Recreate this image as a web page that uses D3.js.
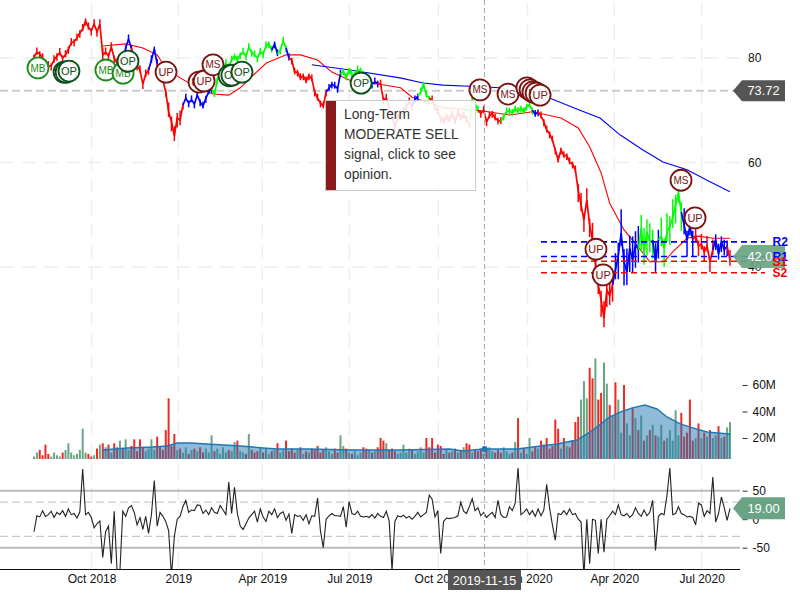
<!DOCTYPE html>
<html><head><meta charset="utf-8">
<script src="https://cdn.jsdelivr.net/npm/d3@7"></script>
<style>
html,body{margin:0;padding:0;background:#fff;}
svg{display:block;font-family:"Liberation Sans",Arial,sans-serif;}
</style></head><body><div id="chart"></div>
<script>
// ---- data (one sample = about two sessions) ----
const closes = [
80.2,81.1,80.8,80,79.2,78.5,78.5,79.6,80.4,81,
80,80.6,81.7,82.9,83.1,83.8,84.8,85.6,87.1,85.9,
85.2,86.5,85,86.5,80.6,81.1,80.4,82.1,80,79,
79.6,78.5,81.9,83.6,81.9,80,78.5,77.7,75,76.9,
77.7,79.6,81.7,78.9,77.3,75.8,73.5,69.7,67.8,65.1,
68.5,68.1,71,72.3,71.4,72,71.2,72.9,71.6,70.8,
72.3,73.5,74.2,73,75.8,77.3,78.1,78.9,78.5,79.6,
80.4,79.6,80.6,81.1,80.4,82,81.1,80.6,80,81.1,
80.8,82.3,82.7,81.5,82.7,80.8,81.5,83.2,81.9,80,
79.6,77.3,77.3,76.2,76.6,75.6,76.6,76,73.5,72.3,
71.4,70.8,73.5,74.2,75,74.6,74.2,76.9,77.5,76.2,
77.7,76.8,76.9,77.7,77.7,76.6,75.8,75.8,75,75.4,
75.2,75,72,72.3,70.4,69.1,66.8,68.5,68.9,69.7,
70.8,71.6,70.8,72,72.7,73.5,75,72.9,72.3,72,
70.8,69.7,68.5,67.8,68.9,68.1,69.4,67.8,69.7,68.5,
69.2,68.1,67.3,72,71.2,70,69.4,70,67.8,68.9,
69.4,68.5,68.1,67.8,68.9,69.7,70,69.4,70.4,69.8,
70.4,69.7,70.8,71,70,69.2,69.7,68.9,67.8,66.2,
65.5,64.3,62.4,60.5,62.4,61.3,61.3,60.1,59.7,58.6,
54.7,51.9,49,52.8,48,45.2,41,36.6,33.7,30.2,
35.6,34.5,36.6,39.4,42.2,46.5,41,39,43.6,41.3,
44.4,43.3,47.5,42.9,46.7,44.8,45.2,41,45.2,45.9,
43.6,46.7,47.8,49.4,51.9,54.2,50.5,48,45.2,47.8,
45.2,46,44,44.4,42.9,44,41,43.3,45.2,42.5,
44.8,43.3,44,41.3];
const signalRuns = [["down",32],["flat",3],["down",6],["flat",3],["down",9],["flat",10],["up",21],["flat",2],["up",3],["flat",1],
["down",13],["flat",5],["up",9],["flat",4],["down",12],["flat",2],["up",4],["down",14],["up",3],["down",8],["up",11],["flat",2],
["down",26],["flat",9],["up",5],["flat",2],["up",8],["flat",4],["down",7],["flat",5],["down",1]];
// typical high-low spread of the bars, as [samples, price range]
const barSpreadRuns = [[24,1.4],[1,4],[22,1.4],[5,2.8],[138,1.3],[5,3.5],[9,5],[11,7],[12,5.5],[4,5],[13,3]];
const fastMaSamples = [24,32,38,43,46,51,57,62.5,68,72,76.5,81,88,93,99,104,110,118,128,132,143.5,155,166,174,184,190,194,198,201,206,211,215,220,223,228,232,237,243];
const fastMaValues  = [82.3,82.7,81.9,80.6,78.1,76.2,74.3,73.1,72.9,74.3,76.7,79,80.6,80.6,79.6,77.3,75.8,75.2,74.3,72.5,70.4,70,69.1,69.7,68.5,66.6,63,58,52.2,47.1,43.8,41,41,42.9,45.5,45.9,45.5,45.5];
const slowMaSamples = [97,110.3,127.8,135.8,142.8,152.2,162.7,180.2,190.6,197.6,204.6,212.6,219.6,228,236,243];
const slowMaValues  = [78.7,77.7,76.2,75.2,74.8,74.6,74.3,72.3,70,68.5,65.3,62.4,60.1,58.6,56.3,54.4];
const volumes = [
6,9,11,7,15,8,6,9,7,6,
9,11,16,9,7,8,11,27,9,8,
6,7,12,15,16,13,15,9,16,13,
18,12,19,11,14,19,10,19,13,10,
12,19,11,21,13,11,26,50,14,23,
11,12,9,13,8,11,12,10,13,9,
12,9,22,10,12,8,13,9,11,10,
17,18,10,9,8,23,11,9,10,13,
9,12,8,10,11,16,9,11,18,10,
12,9,11,13,8,10,9,12,11,14,
9,11,13,10,8,12,9,22,14,12,
9,8,10,7,9,13,12,11,9,10,
13,20,18,16,11,12,10,8,9,15,
9,12,11,8,10,13,9,20,13,20,
9,15,14,8,11,9,10,12,9,11,
13,16,15,9,11,10,12,8,11,13,
10,9,11,9,13,10,8,9,17,35,
9,12,8,20,10,13,12,18,15,20,
12,14,34,27,12,20,14,13,18,32,
36,49,63,50,73,65,80,49,54,77,
61,45,37,62,49,24,60,31,22,43,
35,26,37,18,22,26,30,22,21,30,
18,20,26,18,41,22,39,21,24,49,
18,20,31,20,24,21,26,20,22,29,
20,21,28,32];
const volumeForcedUp = [17,191,192,196,199,205,207,212,224,238,243];
const volumeForcedDown = [47,194,195,203,206,226,229];
const volMaSamples = [24,32.5,41.5,46.4,50,54.5,60.4,72,80,84.8,95.3,111.4,127.8,145,149.8,156.8,168.6,174.2,182.6,189.6,195.2,201,205.7,209,213.3,217.5,221,225.6,230,235,238.5,243];
const volMaValues  = [10.9,12.5,13.2,14,16.2,16.2,15.5,14,12.5,11.7,11.7,10.9,10.9,11.7,10.2,11.7,11.7,13.2,15.5,18.5,26,35.9,40.4,42.7,44.9,41.9,35.9,30.6,27.6,24.5,23.8,23];
const oscillator = [
-22,6,4,15,5,8,14,3,12,8,
15,5,18,8,10,2,13,88,8,12,
3,-15,-8,-3,-67,-22,-12,-78,14,-90,
-90,14,5,20,24,12,-10,3,-18,5,
-25,8,68,-12,12,5,-4,-20,-100,-30,
0,5,22,33,12,16,15,25,24,10,
16,8,20,12,10,24,16,8,65,10,
56,10,-12,-18,-8,2,8,14,-5,18,
4,-4,14,8,18,3,10,13,-2,9,
-25,8,5,6,-2,8,-8,6,5,37,
-20,-50,0,6,10,6,6,5,22,-14,
31,10,8,14,5,4,5,3,8,2,
10,5,3,14,-3,-90,-4,6,4,7,
2,5,0,5,12,4,8,12,42,35,
4,15,-60,-4,2,1,2,3,6,30,
14,10,22,36,15,20,6,12,3,8,
12,3,33,8,3,4,22,15,28,90,
8,12,18,8,15,5,18,6,16,61,
20,-10,-37,10,8,15,8,18,8,10,
0,-5,-100,0,-78,0,-2,-60,0,-58,
0,6,14,8,25,8,6,10,3,8,
20,10,5,16,6,12,33,-55,5,10,
8,42,90,8,10,22,10,8,4,5,
3,-10,28,25,5,15,10,74,-5,10,
39,20,-2,19];
const tickSamples = [20.1,50.4,79.7,110.1,141.2,172.3,202.6,233.1];
const tickLabels = ["Oct 2018","2019","Apr 2019","Jul 2019","Oct 2019","Jan 2020","Apr 2020","Jul 2020"];
const priceTicks = [80,60,40];
const volumeTicks = [20,40,60];
const oscTicks = [50,0,-50];
const levelNames = ["R2","R1","S1","S2"];
const levelValues = [44.8,42,41.1,38.9];
const markerTypes  = ["MB","OP","OP","OP","MB","MB","OP","UP","UP","UP","MS","OP","OP","OP","OP","MS","MS","UP","UP","UP","UP","UP","UP","UP","MS","UP"];
const markerSamples= [1.4,10.5,11.2,12.2,25.1,31.1,32.8,46.1,57.6,59.4,62.5,68.1,69.1,72.6,114.2,155.7,165.5,172.1,173.2,174.2,175.3,176.7,196.2,198.7,225.9,230.8];
const markerValues = [78.1,77.3,77.3,77.5,77.7,77.1,79.4,77.3,75.4,75.6,78.7,76.6,76.7,77.3,75.2,73.9,73.1,74.3,73.9,73.5,73.3,72.9,43.4,38.5,56.6,49.4];
const tooltipLines = ["Long-Term","MODERATE SELL","signal, click to see","opinion."];
const cursorSample = 157.3, cursorLabel = "2019-11-15";
const lastPriceRef = 73.72, lastClose = 42.0, lastCloseLabel = "42.08", lastOsc = 19.00;

// ---- scales ----
const W = 800, H = 600;
const svg = d3.select("#chart").append("svg").attr("width",W).attr("height",H);
const x = d3.scaleLinear().domain([0,closes.length-1]).range([34,730]);
const yP = d3.scaleLinear().domain([80,40]).range([58,267]);
const yV = d3.scaleLinear().domain([4.15,80]).range([459,358.5]);
const yO = d3.scaleLinear().domain([-50,50]).range([547.7,490.7]);
const plotRight = 740, paneBottom = 569.5;

// grid
const g = svg.append("g").attr("fill","none");
g.selectAll("line.v").data(tickSamples).join("line")
 .attr("x1",d=>x(d)).attr("x2",d=>x(d)).attr("y1",3).attr("y2",paneBottom)
 .attr("stroke","#eeeeee").attr("stroke-width",1.5).attr("stroke-dasharray","14,8");
g.selectAll("line.h").data(priceTicks).join("line")
 .attr("x1",0).attr("x2",plotRight).attr("y1",d=>yP(d)).attr("y2",d=>yP(d))
 .attr("stroke","#eeeeee").attr("stroke-width",1.5).attr("stroke-dasharray","14,8");

// price reference
svg.append("line").attr("x1",0).attr("x2",735).attr("y1",yP(lastPriceRef)).attr("y2",yP(lastPriceRef))
 .attr("stroke","#cccccc").attr("stroke-width",2).attr("stroke-dasharray","8,4");

// moving averages
const maLine = d3.line().x(d=>x(d[0])).y(d=>yP(d[1]));
svg.append("path").attr("d",maLine(d3.zip(fastMaSamples,fastMaValues))).attr("fill","none").attr("stroke","#ff0000").attr("stroke-width",1.1);
svg.append("path").attr("d",maLine(d3.zip(slowMaSamples,slowMaValues))).attr("fill","none").attr("stroke","#0000ff").attr("stroke-width",1.1);

// price, coloured by signal, drawn as a close line with high-low bars
const signalColor = {down:"#ff0000",flat:"#0000ff",up:"#00ff00"};
const closeLine = d3.line().x(d=>x(d)).y(d=>yP(closes[d]));
const spreads = barSpreadRuns.flatMap(([n,s])=>d3.range(n).map(()=>s));
let at = 0;
signalRuns.forEach(([name,n])=>{
  const idx = d3.range(Math.max(at-1,0), Math.min(at+n,closes.length));
  const col = signalColor[name];
  svg.append("path").attr("d",closeLine(idx)).attr("fill","none").attr("stroke",col).attr("stroke-width",1.7);
  svg.append("g").selectAll("line").data(d3.range(at,Math.min(at+n,closes.length))).join("line")
    .attr("x1",d=>x(d)).attr("x2",d=>x(d))
    .attr("y1",d=>yP(closes[d]+spreads[d]*(d%2?0.65:0.35)))
    .attr("y2",d=>yP(closes[d]-spreads[d]*(d%2?0.35:0.65)))
    .attr("stroke",col).attr("stroke-width",1.5);
  at += n;
});

// support and resistance
const levelColor = n => n[0]==="R" ? "#0000ff" : "#ff0000";
svg.selectAll("line.lvl").data(levelNames).join("line")
 .attr("x1",541).attr("x2",765).attr("y1",(d,i)=>yP(levelValues[i])).attr("y2",(d,i)=>yP(levelValues[i]))
 .attr("stroke",levelColor).attr("stroke-width",1.6).attr("stroke-dasharray","6,4");

// volume
const isUp = i => volumeForcedUp.includes(i) ? true : volumeForcedDown.includes(i) ? false : (i===0 || closes[i]>=closes[i-1]);
svg.selectAll("rect.vol").data(volumes).join("rect")
 .attr("x",(d,i)=>x(i)-1).attr("width",2).attr("y",d=>yV(d)).attr("height",d=>yV.range()[0]-yV(d))
 .attr("fill",(d,i)=>isUp(i)?"#6aa484":"#ee2a24");
const volArea = d3.area().x(d=>x(d[0])).y0(yV.range()[0]).y1(d=>yV(d[1]));
const volLine = d3.line().x(d=>x(d[0])).y(d=>yV(d[1]));
const volMa = d3.zip(volMaSamples,volMaValues);
svg.append("path").attr("d",volArea(volMa)).attr("fill","#1f77b4").attr("fill-opacity",0.5);
svg.append("path").attr("d",volLine(volMa)).attr("fill","none").attr("stroke","#1f77b4").attr("stroke-width",1.4);

// oscillator
[50,-50].forEach(v=>svg.append("line").attr("x1",0).attr("x2",plotRight).attr("y1",yO(v)).attr("y2",yO(v)).attr("stroke","#bbbbbb").attr("stroke-width",2));
[30,-30].forEach(v=>svg.append("line").attr("x1",0).attr("x2",plotRight).attr("y1",yO(v)).attr("y2",yO(v)).attr("stroke","#cccccc").attr("stroke-width",1.2).attr("stroke-dasharray","8,4"));
svg.append("clipPath").attr("id","oscClip").append("rect").attr("x",0).attr("y",468).attr("width",plotRight).attr("height",paneBottom-468);
svg.append("path").attr("clip-path","url(#oscClip)")
 .attr("d",d3.line().x((d,i)=>x(i)).y(d=>yO(d))(oscillator))
 .attr("fill","none").attr("stroke","#222").attr("stroke-width",1.1);

// axes
const styleAxis = sel => { sel.select(".domain").remove(); sel.selectAll("text").attr("fill","#111").style("font-size","12px").style("font-family",'"Liberation Sans",Arial,sans-serif'); sel.selectAll(".tick line").attr("stroke","#333"); };
svg.append("g").attr("transform",`translate(748,0)`).call(d3.axisRight(yP).tickValues(priceTicks).tickSize(0).tickPadding(0).tickFormat(d3.format("d"))).call(styleAxis);
svg.append("g").attr("transform",`translate(742.5,0)`).call(d3.axisRight(yV).tickValues(volumeTicks).tickSize(5).tickPadding(5).tickFormat(d=>d+"M")).call(styleAxis);
svg.append("g").attr("transform",`translate(742.5,0)`).call(d3.axisRight(yO).tickValues(oscTicks).tickSize(5).tickPadding(5).tickFormat(d=>d)).call(styleAxis);
svg.append("g").attr("transform",`translate(0,${paneBottom})`)
 .call(d3.axisBottom(x).tickValues(tickSamples).tickSize(0).tickPadding(5).tickFormat((d,i)=>tickLabels[i])).call(styleAxis);
svg.append("line").attr("x1",0).attr("x2",plotRight).attr("y1",paneBottom).attr("y2",paneBottom).attr("stroke","#111").attr("stroke-width",1.2);

// crosshair
svg.append("line").attr("x1",x(cursorSample)).attr("x2",x(cursorSample)).attr("y1",0).attr("y2",paneBottom)
 .attr("stroke","#aaaaaa").attr("stroke-width",1).attr("stroke-dasharray","5,3");
svg.append("circle").attr("cx",x(cursorSample)).attr("cy",yV(11.7)).attr("r",3).attr("fill","#1f77b4");

// event markers
const markerColor = {MB:"#1a8c1a",OP:"#0e4f18",UP:"#7a1212",MS:"#7a1212"};
const mk = svg.selectAll("g.mk").data(markerTypes).join("g").attr("class","mk")
 .attr("transform",(d,i)=>`translate(${x(markerSamples[i])},${yP(markerValues[i])})`);
mk.append("circle").attr("r",10.5).attr("fill","#ffffff").attr("fill-opacity",0.92).attr("stroke",d=>markerColor[d]).attr("stroke-width",1.8);
mk.append("text").text(d=>d).attr("text-anchor","middle").attr("dy","0.36em").style("font-size",d=>d==="MB"||d==="MS"?"10px":"11px").attr("fill",d=>markerColor[d]);

// tooltip
const tip = svg.append("g");
tip.append("rect").attr("x",325.5).attr("y",100.5).attr("width",150).attr("height",90).attr("fill","#ffffff").attr("fill-opacity",0.87).attr("stroke","#cccccc");
tip.append("rect").attr("x",326).attr("y",101).attr("width",10).attr("height",89).attr("fill","#8b1a1a");
tip.selectAll("text").data(tooltipLines).join("text").text(d=>d).attr("x",344).attr("y",(d,i)=>114+20*i).attr("dy","0.36em").attr("fill","#333").style("font-size","13.8px");

// value tags
function tag(yc,label,fill,h){
  const t = svg.append("g").attr("transform",`translate(0,${yc})`);
  t.append("path").attr("d",`M733,0L742,${-h/2}L785,${-h/2}L785,${h/2}L742,${h/2}Z`).attr("fill",fill);
  t.append("text").text(label).attr("x",763.5).attr("text-anchor","middle").attr("dy","0.36em").attr("fill","#fff").style("font-size","12.8px");
}
tag(yP(lastPriceRef),lastPriceRef.toFixed(2),"#555555",21);
tag(yP(lastClose),lastCloseLabel,"rgba(106,164,132,0.92)",23);
tag(yO(lastOsc),lastOsc.toFixed(2),"#6aa484",22);

// level labels
svg.selectAll("text.lvl").data(levelNames).join("text").text(d=>d)
 .attr("x",772.5).attr("y",(d,i)=>yP(levelValues[i])).attr("dy","0.36em").attr("fill",levelColor).style("font-size","12px").style("font-weight","bold");

// cursor date
svg.append("rect").attr("x",448).attr("y",570).attr("width",73).attr("height",20).attr("fill","#555555");
svg.append("text").text(cursorLabel).attr("x",484.5).attr("y",580).attr("dy","0.36em").attr("text-anchor","middle").attr("fill","#fff").style("font-size","12.6px");
</script></body></html>
